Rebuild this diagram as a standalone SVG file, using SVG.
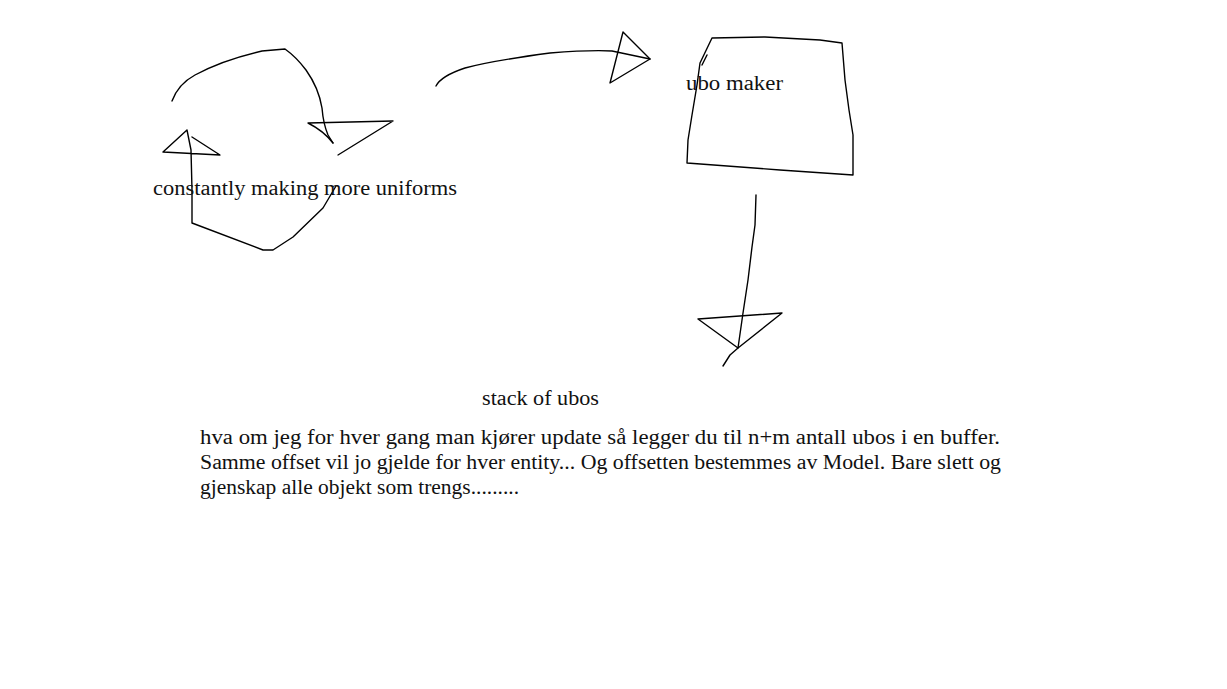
<svg xmlns="http://www.w3.org/2000/svg" width="1227" height="689" viewBox="0 0 1227 689">
<style>
.s{fill:none;stroke:#000;stroke-width:1.4;stroke-linejoin:round;stroke-linecap:round}
.t{font-family:"Liberation Serif","DejaVu Serif",serif;font-size:20px;fill:#111}
</style>
<rect width="1227" height="689" fill="#fff"/>
<g id="connectors">
<path class="s" d="M172,101 C176,90 182,82 195,75 C215,64 240,56 262,51 L285,49 C292,54 300,62 306,70 C316,84 320,96 322,108 C323,120 325,128 328,135 L333,143"/>
<path class="s" d="M308,123 L393,121 L338,155 M308,123 C318,128 326,134 333,143"/>
<path class="s" d="M187,130 L163,152 L220,155 L192,137 M187,130 L191,150 L192,190 L192,223 L263,250 L273,250 L293,237 L323,208 L336,186"/>
<path class="s" d="M436,86 C440,78 450,73 465,68 C490,61 520,57 550,53 C575,51 595,50 612,51 L650,59"/>
<path class="s" d="M623,32 L650,59 L610,83 L623,32"/>
<path class="s" d="M756,195 L755,225 L752,247 L748,280 L743,313 L738,348 L730,355 L723,366"/>
<path class="s" d="M698,319 L782,313 L738,348 Z"/>
</g>
<g id="node-uniforms"><text class="t" x="153" y="195" textLength="304" lengthAdjust="spacingAndGlyphs">constantly making more uniforms</text></g>
<g id="node-ubo-maker">
<path class="s" d="M712,38 L765,37 L820,40 L842,43 L845,80 L849,110 L853,135 L853,175 L780,170 L687,163 L688,140 L692,115 L697,85 L700,63 L712,38 M702,65 L707,55"/>
<text class="t" x="686" y="90" textLength="97" lengthAdjust="spacingAndGlyphs">ubo maker</text>
</g>
<g id="node-stack"><text class="t" x="482" y="405" textLength="117" lengthAdjust="spacingAndGlyphs">stack of ubos</text></g>
<g id="note">
<text class="t" x="200" y="444" textLength="800" lengthAdjust="spacingAndGlyphs">hva om jeg for hver gang man kjører update så legger du til n+m antall ubos i en buffer.</text>
<text class="t" x="200" y="469" textLength="801" lengthAdjust="spacingAndGlyphs">Samme offset vil jo gjelde for hver entity... Og offsetten bestemmes av Model. Bare slett og</text>
<text class="t" x="200" y="494" textLength="319" lengthAdjust="spacingAndGlyphs">gjenskap alle objekt som trengs.........</text>
</g>
</svg>
